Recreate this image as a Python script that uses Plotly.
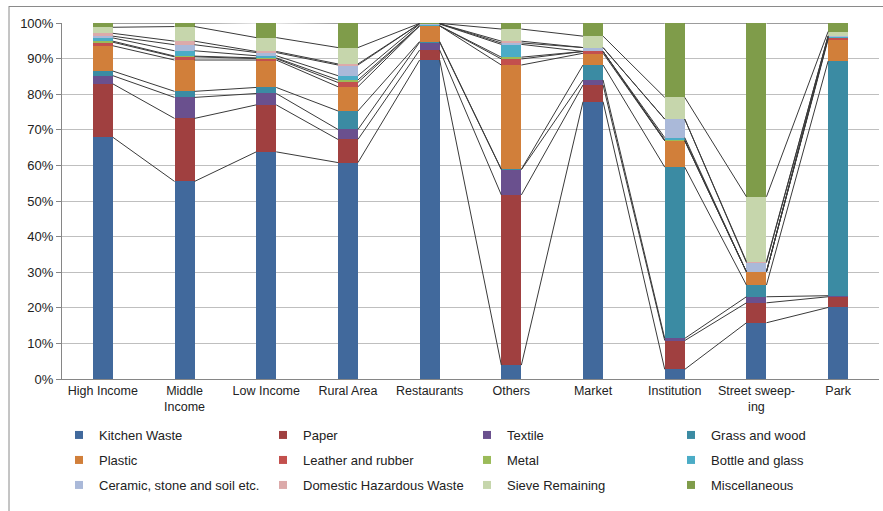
import plotly.graph_objects as go

categories = ["High Income", "Middle<br>Income", "Low Income", "Rural Area", "Restaurants",
              "Others", "Market", "Institution", "Street sweep-<br>ing", "Park"]

kitchen_waste = [67.9, 55.5, 63.8, 60.8, 89.6, 3.9, 77.9, 2.7, 15.8, 20.1]
paper         = [15.0, 17.7, 13.2, 6.5, 2.8, 47.8, 4.7, 8.1, 5.6, 3.0]
textile       = [2.3, 5.9, 3.2, 2.8, 2.2, 7.1, 1.4, 0.6, 1.7, 0.3]
grass_wood    = [1.3, 1.7, 1.7, 5.2, 0.2, 0.1, 4.2, 48.1, 3.3, 65.9]
plastic       = [7.1, 8.8, 7.7, 6.8, 4.4, 29.3, 3.3, 7.4, 3.7, 6.1]
leather       = [1.0, 0.9, 0.4, 1.2, 0.0, 1.7, 0.5, 0.0, 0.0, 0.5]
metal         = [0.3, 0.2, 0.2, 0.7, 0.0, 0.5, 0.0, 0.3, 0.0, 0.0]
bottle_glass  = [0.9, 1.5, 0.6, 1.2, 0.5, 3.6, 0.0, 0.6, 0.0, 0.3]
ceramic       = [0.5, 1.7, 0.9, 3.0, 0.1, 0.4, 1.1, 5.2, 2.6, 0.2]
hazardous     = [0.8, 1.0, 0.3, 0.3, 0.0, 0.5, 0.0, 0.0, 0.3, 0.0]
sieve         = [1.7, 4.1, 3.9, 4.6, 0.1, 3.4, 3.2, 6.1, 18.2, 1.2]
miscellaneous = [1.2, 1.0, 4.2, 6.9, 0.1, 1.7, 3.7, 20.9, 48.8, 2.4]

series_names = ["Kitchen Waste", "Paper", "Textile", "Grass and wood",
                "Plastic", "Leather and rubber", "Metal", "Bottle and glass",
                "Ceramic, stone and soil etc.", "Domestic Hazardous Waste",
                "Sieve Remaining", "Miscellaneous"]
series_values = [kitchen_waste, paper, textile, grass_wood, plastic, leather, metal,
                 bottle_glass, ceramic, hazardous, sieve, miscellaneous]
colors = ["#41699C", "#A04040", "#6A508E", "#3B8BA3", "#D17F3A", "#C3504D",
          "#9BBB59", "#4BACC6", "#AAB9D9", "#DCAAAA", "#C6D6AC", "#7F9C4A"]

x_pos = list(range(len(categories)))
bar_w = 0.245

fig = go.Figure()
for name, vals, col in zip(series_names, series_values, colors):
    fig.add_trace(go.Bar(x=x_pos, y=vals, name=name, marker_color=col,
                         marker_line_width=0, width=bar_w, showlegend=False))

# series lines connecting cumulative tops between adjacent bars
cum = [0.0] * len(categories)
lx, ly = [], []
for vals in series_values:
    cum = [c + v for c, v in zip(cum, vals)]
    for i in range(len(categories) - 1):
        lx += [x_pos[i] + bar_w / 2, x_pos[i + 1] - bar_w / 2, None]
        ly += [cum[i], cum[i + 1], None]
fig.add_trace(go.Scatter(x=lx, y=ly, mode="lines", line=dict(color="#3a3a3a", width=1),
                         showlegend=False, hoverinfo="skip"))

# legend entries (three rows of four)
legend_ids = ["legend", "legend2", "legend3"]
for idx, (name, col) in enumerate(zip(series_names, colors)):
    fig.add_trace(go.Scatter(x=[None], y=[None], mode="markers", name=name,
                             marker=dict(symbol="square", size=8, color=col),
                             legend=legend_ids[idx // 4]))

font_family = "Liberation Sans, Arial, sans-serif"
row_y = [435, 460, 485]
legend_common = dict(orientation="h", xanchor="left", yanchor="middle",
                     entrywidth=159, entrywidthmode="pixels", traceorder="normal",
                     font=dict(family=font_family, size=13, color="#222"),
                     bgcolor="rgba(0,0,0,0)", itemwidth=30)

plot_top, plot_bot, plot_left, plot_right = 23, 379, 62, 879
def py(v):
    return (plot_bot - v) / (plot_bot - plot_top)
def px(v):
    return (v - plot_left) / (plot_right - plot_left)

layout_legends = {}
for lid, ry in zip(legend_ids, row_y):
    layout_legends[lid] = dict(legend_common, x=px(59), y=py(ry))

fig.update_layout(
    barmode="stack",
    width=883, height=511,
    margin=dict(l=plot_left, r=883 - plot_right, t=plot_top, b=511 - plot_bot,
                autoexpand=False),
    paper_bgcolor="white", plot_bgcolor="white",
    font=dict(family=font_family, size=13, color="#222"),
    bargap=0,
    **layout_legends,
    xaxis=dict(tickmode="array", tickvals=x_pos, ticktext=categories,
               range=[-0.5, 9.5], showgrid=False, zeroline=False,
               showline=True, linecolor="#868686", linewidth=1,
               ticks="", tickfont=dict(size=12.5, family=font_family, color="#222")),
    yaxis=dict(range=[0, 100], dtick=10, ticksuffix="%", showgrid=True,
               gridcolor="#BFBFBF", gridwidth=1, zeroline=False,
               showline=True, linecolor="#868686", linewidth=1,
               ticks="outside", ticklen=5, tickcolor="#868686",
               tickfont=dict(size=13, family=font_family, color="#222")),
    shapes=[
        dict(type="line", xref="paper", yref="paper", x0=px(9), x1=px(9),
             y0=py(6), y1=py(515), line=dict(color="#8a8a8a", width=1)),
        dict(type="line", xref="paper", yref="paper", x0=px(9), x1=px(890),
             y0=py(6.5), y1=py(6.5), line=dict(color="#8a8a8a", width=1)),
    ],
)

fig.write_html("out.html", config={"displayModeBar": False},
               post_script="document.body.style.margin='0';")
